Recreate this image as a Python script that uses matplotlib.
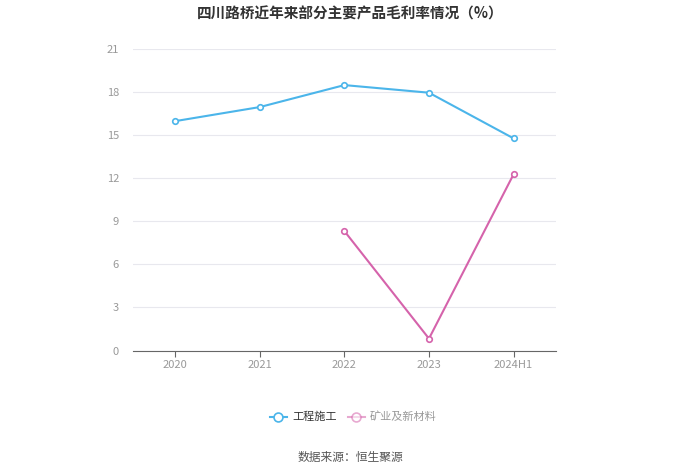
import matplotlib
matplotlib.use("Agg")
import matplotlib.pyplot as plt
import numpy as np

plt.rcParams['font.family'] = ['Noto Sans CJK SC', 'DejaVu Sans']

categories = ["2020", "2021", "2022", "2023", "2024H1"]
engineering = [15.98, 16.96, 18.49, 17.96, 14.78]
mining = [np.nan, np.nan, 8.32, 0.83, 12.27]
series_names = ["工程施工", "矿业及新材料"]
yticks = [0, 3, 6, 9, 12, 15, 18, 21]

blue = "#4bb5ea"
pink = "#d563ab"

fig = plt.figure(figsize=(7, 4.74), dpi=100)
ax = fig.add_axes([0.19, 0.2605, 0.604, 0.636])

x = np.arange(len(categories))
ax.plot(x, engineering, color=blue, lw=1.5, marker="o", ms=4,
        mfc="white", mec=blue, mew=1.2, label=series_names[0], zorder=3)
ax.plot(x, mining, color=pink, lw=1.5, marker="o", ms=4,
        mfc="white", mec=pink, mew=1.2, label=series_names[1], zorder=3)

ax.set_xlim(-0.5, len(categories) - 0.5)
ax.set_ylim(0, 21)
ax.set_yticks(yticks)
ax.set_yticklabels([str(v) for v in yticks])
ax.set_xticks(x)
ax.set_xticklabels(categories)

ax.grid(axis="y", color="#e8e8ee", lw=0.8)
ax.set_axisbelow(True)
for s in ["top", "right", "left"]:
    ax.spines[s].set_visible(False)
ax.spines["bottom"].set_color("#666666")
ax.spines["bottom"].set_linewidth(0.8)
ax.tick_params(axis="y", length=0, labelsize=8, labelcolor="#999999", pad=10)
ax.tick_params(axis="x", length=4, color="#666666", labelsize=8,
               labelcolor="#999999", pad=3)

fig.text(0.5, 0.972, "四川路桥近年来部分主要产品毛利率情况（%）", ha="center",
         va="center", fontsize=10.5, fontweight="bold", color="#333333")

leg = fig.legend(loc="center", bbox_to_anchor=(0.505, 0.12), ncol=2,
                 frameon=False, fontsize=8, handlelength=1.5,
                 columnspacing=1.0, handletextpad=0.5, markerscale=1.6)
for t, c in zip(leg.get_texts(), ["#333333", "#999999"]):
    t.set_color(c)
leg.legend_handles[1].set_alpha(0.55)

fig.text(0.5, 0.035, "数据来源：恒生聚源", ha="center", va="center",
         fontsize=8.5, color="#555555")

fig.savefig("out.png", dpi=100)
